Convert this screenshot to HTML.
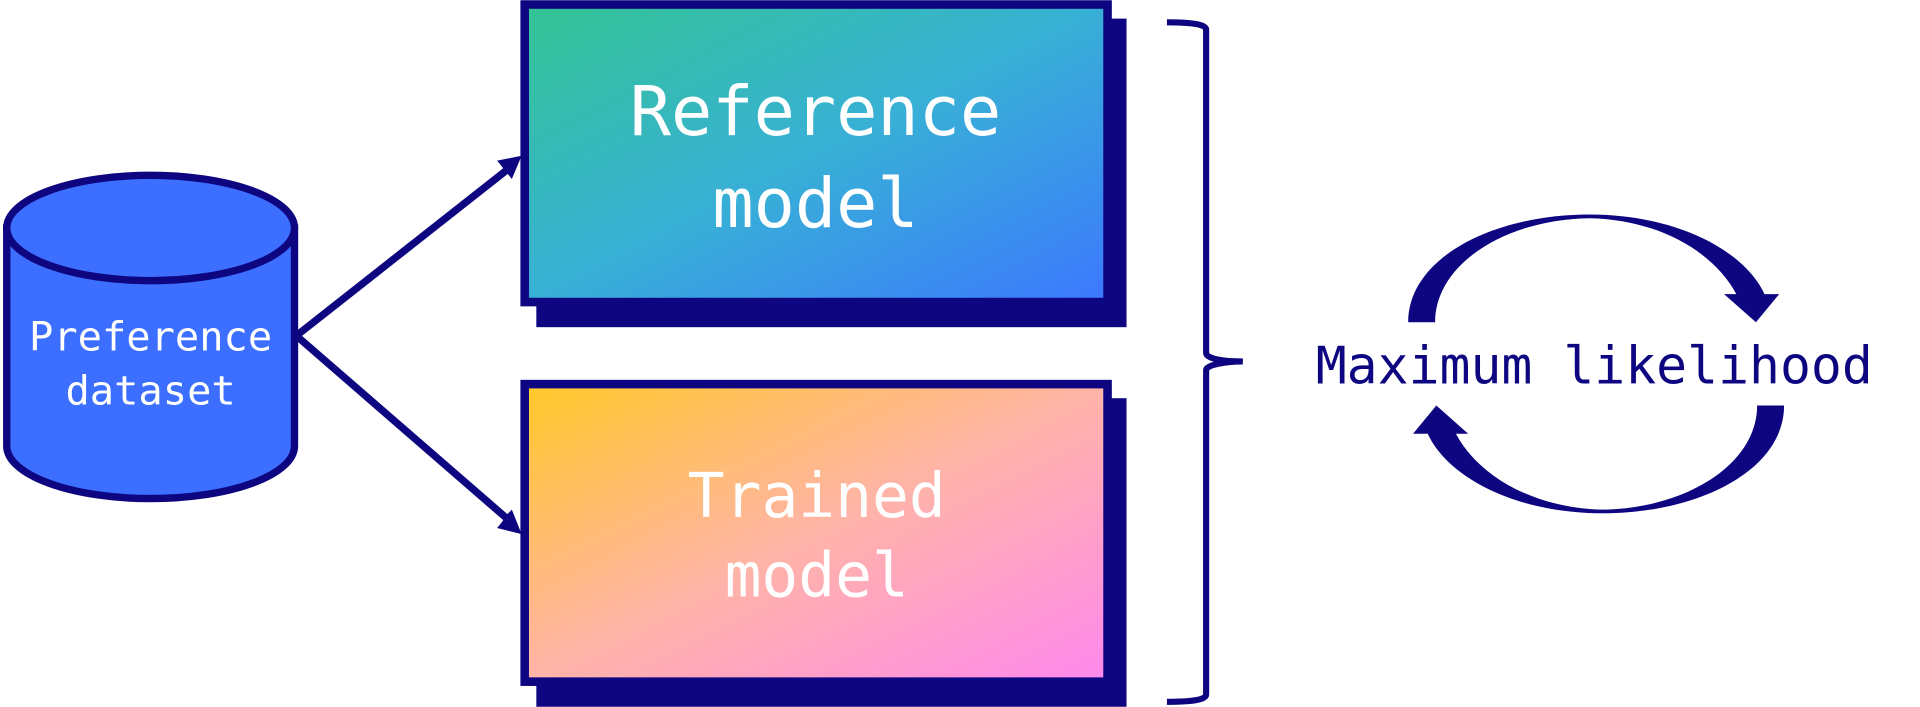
<!DOCTYPE html>
<html><head><meta charset="utf-8"><style>
html,body{margin:0;padding:0;background:#fff;width:1920px;height:707px;overflow:hidden}
svg{display:block}
text{font-family:"DejaVu Sans Mono","Liberation Mono",monospace}
</style></head><body>
<svg width="1920" height="707" viewBox="0 0 1568 577" xmlns="http://www.w3.org/2000/svg">
<defs>
<linearGradient id="g1" x1="0" y1="0" x2="1" y2="1">
<stop offset="0" stop-color="#33c493"/><stop offset="0.5" stop-color="#38b0d6"/><stop offset="1" stop-color="#3c78ff"/></linearGradient>
<linearGradient id="g2" x1="0" y1="0" x2="1" y2="1">
<stop offset="0" stop-color="#ffc928"/><stop offset="0.5" stop-color="#ffb4a8"/><stop offset="1" stop-color="#ff88ee"/></linearGradient>
</defs>
<g fill="#0d0680">
<rect x="438" y="15" width="482" height="252"/>
<rect x="438" y="325" width="482" height="252"/>
</g>
<rect x="428.5" y="3.5" width="476" height="243" fill="url(#g1)" stroke="#0d0680" stroke-width="7"/>
<rect x="428.5" y="313.5" width="476" height="243" fill="url(#g2)" stroke="#0d0680" stroke-width="7"/>
<g fill="#fff" font-size="56" text-anchor="middle">
<text x="666" y="110">Reference</text>
<text x="666" y="185">model</text>
</g>
<g fill="#fff" font-size="50" text-anchor="middle">
<text x="667" y="422">Trained</text>
<text x="667" y="487">model</text>
</g>
<path d="M5.5,186 L5.5,364 A117.5,43 0 0 0 240.5,364 L240.5,186 Z" fill="#3c6eff" stroke="#0d0680" stroke-width="6"/>
<ellipse cx="123" cy="186" rx="117.5" ry="43" fill="#3c6eff" stroke="#0d0680" stroke-width="6"/>
<g fill="#fff" font-size="33" text-anchor="middle">
<text x="123" y="286">Preference</text>
<text x="123" y="330">dataset</text>
</g>
<g stroke="#0d0680" stroke-width="6" fill="none">
<line x1="242" y1="274" x2="416" y2="137"/>
<line x1="242" y1="274" x2="416" y2="425"/>
</g>
<g fill="#0d0680">
<path d="M426,127 L406,131 L410,136 L414,141 L418,146 Z"/>
<path d="M426,436 L406,431 L410,426 L414,420 L418,416 Z"/>
</g>
<path d="M953,18 C975,18 985,20 985,24 L985,288 C985,293 1000,295 1015,295 C1000,295 985,298 985,302 L985,567 C985,571 975,573 953,573" fill="none" stroke="#0d0680" stroke-width="5"/>
<g fill="#0d0680">
<path id="ca" d="M1150,263 C1150,210 1220,175 1298,175 C1370,175 1425,205 1441,240 L1453,240 L1434,263 L1408,240 L1418,240 C1400,206 1355,179 1298,178 C1230,179 1172,215 1172,263 Z"/>
<use href="#ca" transform="rotate(180 1303.5 297)"/>
</g>
<text x="1302" y="313" font-size="42" fill="#0d0680" text-anchor="middle">Maximum likelihood</text>
</svg>
</body></html>
